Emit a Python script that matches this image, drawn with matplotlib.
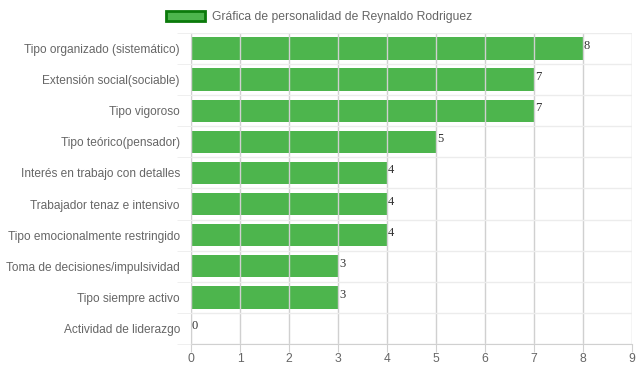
import matplotlib
matplotlib.use("Agg")
import matplotlib.pyplot as plt
import numpy as np
from matplotlib.patches import Patch

categories = ["Tipo organizado (sistemático)", "Extensión social(sociable)", "Tipo vigoroso",
              "Tipo teórico(pensador)", "Interés en trabajo con detalles",
              "Trabajador tenaz e intensivo", "Tipo emocionalmente restringido",
              "Toma de decisiones/impulsividad", "Tipo siempre activo", "Actividad de liderazgo"]
values = [8, 7, 7, 5, 4, 4, 4, 3, 3, 0]
series_label = "Gráfica de personalidad de Reynaldo Rodriguez"
xticks = list(range(0, 10))

plt.rcParams['font.family'] = ['Liberation Sans', 'DejaVu Sans']
fig = plt.figure(figsize=(6.39, 3.72), dpi=100)
W, H = 639, 372
ax = fig.add_axes([191/W, 1-344/H, (632-191)/W, (344-33)/H])

green = '#4db54d'
n = len(categories)
y = np.arange(n)
ax.barh(y, values, height=0.72, color=green, zorder=1)
ax.set_ylim(n-0.5, -0.5)
ax.set_xlim(0, 9)
ax.set_xticks(xticks)
ax.set_yticks(y)
ax.set_yticklabels(categories)
ax.set_yticks(np.arange(-0.5, n, 1), minor=True)

ax.grid(axis='x', which='major', color='#d0d0d0', linewidth=1, zorder=2)
ax.grid(axis='y', which='minor', color='#ececec', linewidth=1, zorder=0)
ax.set_axisbelow(False)
ax.tick_params(axis='x', which='major', length=6, color='#d0d0d0', labelcolor='#666666', labelsize=8.7, pad=0.5)
ax.tick_params(axis='y', which='major', length=0, labelcolor='#666666', labelsize=8.6, pad=8)
ax.tick_params(axis='y', which='minor', length=10, color='#ececec')
for s in ['top', 'right']:
    ax.spines[s].set_visible(False)
ax.spines['left'].set_color('#d0d0d0')
ax.spines['bottom'].set_color('#d0d0d0')

for yi, v in zip(y, values):
    ax.text(v + 0.02, yi - 0.08, str(v), fontsize=9, family=['Liberation Serif', 'DejaVu Serif'],
            color='#333333', va='center', ha='left', zorder=3)

handle = Patch(facecolor=green, edgecolor='#0b7a0b', linewidth=2)
fig.legend([handle], [series_label], loc='upper center', bbox_to_anchor=(0.5, 0.993),
           frameon=False, fontsize=8.7, labelcolor='#666666', handlelength=3.2, handleheight=0.9,
           handletextpad=0.6, borderaxespad=0.3)

fig.savefig("out.png", dpi=100)
